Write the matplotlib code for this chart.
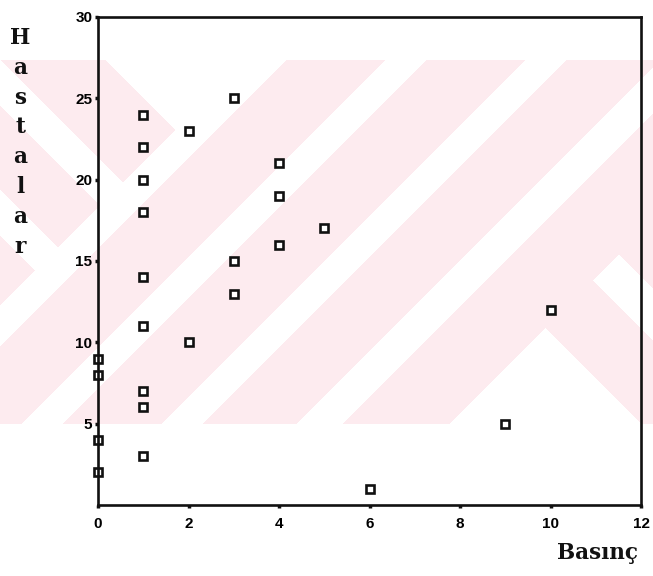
import numpy as np
import matplotlib
matplotlib.use("Agg")
import matplotlib.pyplot as plt

# Scatter data: pressure (Basınç) vs. patients (Hastalar)
basinc = [0, 0, 0, 0,
          1, 1, 1, 1, 1, 1, 1, 1, 1,
          2, 2,
          3, 3, 3,
          4, 4, 4,
          5, 6, 9, 10]
hastalar = [9, 8, 4, 2,
            24, 22, 20, 18, 14, 11, 7, 6, 3,
            23, 10,
            25, 15, 13,
            21, 19, 16,
            17, 1, 5, 12]

x_ticks = [0, 2, 4, 6, 8, 10, 12]
y_ticks = [5, 10, 15, 20, 25, 30]
y_label_letters = ["H", "a", "s", "t", "a", "l", "a", "r"]
x_label = "Basınç"

W, H = 653, 576
fig = plt.figure(figsize=(W / 100, H / 100), dpi=100)

# Pale diagonal-stripe background band
bg = fig.add_axes([0, 0, 1, 1], zorder=0)
bg.set_axis_off()
Y, X = np.mgrid[0:H, 0:W].astype(float)
s = X + Y
d = Y - X
white = np.zeros_like(X, dtype=bool)
mid = (s >= 305) & (s <= 872)
for lo, hi in [(305, 345), (445, 485), (585, 625), (720, 765)]:
    white |= mid & (s >= lo) & (s <= hi)
left = s < 305
white |= left & ((d < -45) | ((d >= 60) & (d <= 105)) | ((d >= 190) & (d <= 235)))
right = s > 872
white |= right & ((d > -218) | ((d >= -364) & (d <= -313)))
band = (Y >= 60) & (Y <= 423)
img = np.ones((H, W, 3))
pink = np.array([253, 235, 239]) / 255
img[band & ~white] = pink
bg.imshow(img, extent=[0, W, H, 0], aspect="auto", interpolation="nearest")
bg.set_xlim(0, W)
bg.set_ylim(H, 0)

ax = fig.add_axes([98 / W, 1 - 505 / H, (641 - 98) / W, (505 - 17) / H], zorder=1)
ax.patch.set_alpha(0)

ax.plot(basinc, hastalar, linestyle="none", marker="s", markersize=5.2,
        markerfacecolor="white", markeredgecolor="#111111", markeredgewidth=1.9,
        clip_on=False)

ax.set_xlim(0, 12)
ax.set_ylim(0, 30)
ax.set_xticks(x_ticks)
ax.set_yticks(y_ticks)
ax.set_xticklabels([str(v) for v in x_ticks], fontsize=11, fontweight="bold",
                   family="Liberation Sans")
ax.set_yticklabels([str(v) for v in y_ticks], fontsize=11, fontweight="bold",
                   family="Liberation Sans")
ax.tick_params(axis="x", direction="out", length=2.5, width=2.5, pad=6, color="#111111")
ax.tick_params(axis="y", direction="out", length=2.5, width=2.5, pad=1.5, color="#111111")

for sp in ax.spines.values():
    sp.set_linewidth(1.9)
    sp.set_color("#111111")

fig.text(20 / W, 1 - 27 / H, "\n".join(y_label_letters), ha="center", va="top",
         ma="center", fontsize=15.5, fontweight="bold", family="DejaVu Serif",
         linespacing=1.46, color="#111111")
fig.text(597 / W, 1 - 553 / H, x_label, ha="center", va="center",
         fontsize=15.5, fontweight="bold", family="DejaVu Serif", color="#111111")

fig.savefig("out.png", dpi=100)
